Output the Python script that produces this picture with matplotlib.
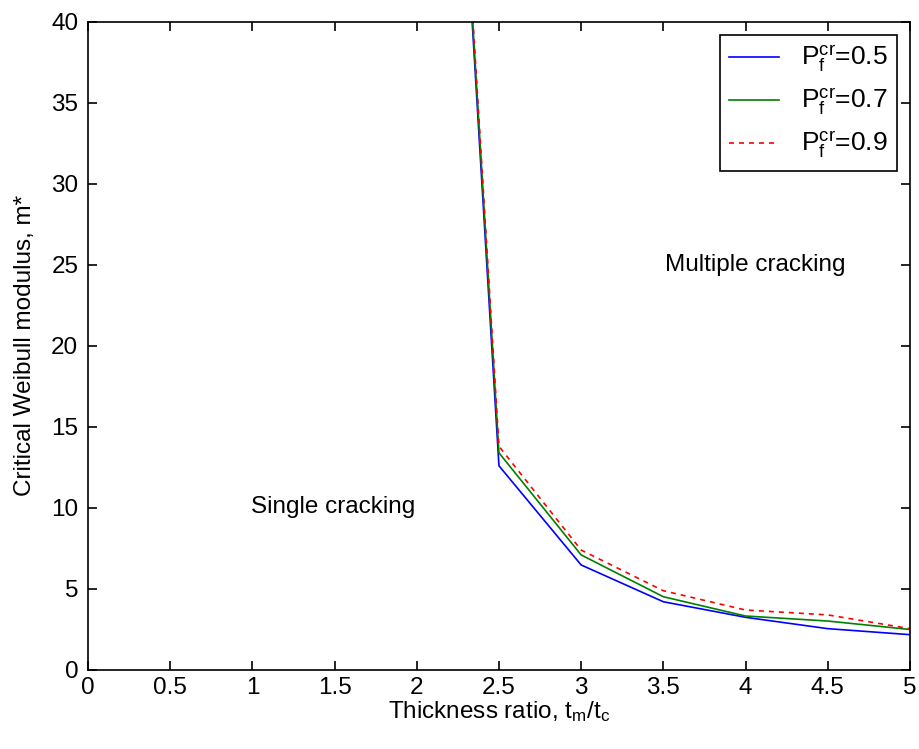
import numpy as np
import matplotlib.pyplot as plt

plt.rcParams['font.family'] = ['Liberation Sans', 'DejaVu Sans']
plt.rcParams['mathtext.fontset'] = 'custom'
plt.rcParams['mathtext.rm'] = 'Liberation Sans'
plt.rcParams['mathtext.it'] = 'Liberation Sans'

# thickness ratio and critical Weibull modulus for each failure probability
ratio = [2.25, 2.5, 3.0, 3.5, 4.0, 4.5, 5.0]
m_05 = [54.6, 12.6, 6.48, 4.21, 3.25, 2.55, 2.18]
m_07 = [55.0, 13.4, 7.1, 4.52, 3.33, 3.02, 2.5]
m_09 = [55.3, 13.8, 7.4, 4.89, 3.7, 3.4, 2.55]
labels = ['P$_f^{cr}$=0.5', 'P$_f^{cr}$=0.7', 'P$_f^{cr}$=0.9']

fig = plt.figure(figsize=(9.2, 7.49), dpi=100)
ax = fig.add_axes([0.0957, 0.1055, 0.8933, 0.8655])

ax.plot(ratio, m_05, color='#0000ff', linewidth=1.2, label=labels[0])
ax.plot(ratio, m_07, color='#008000', linewidth=1.2, label=labels[1])
ax.plot(ratio, m_09, color='#ff0000', linewidth=1.2, linestyle=(0, (3, 3)), label=labels[2])

ax.text(4.06, 25, 'Multiple cracking', ha='center', va='center', fontsize=17.5)
ax.text(1.49, 10.05, 'Single cracking', ha='center', va='center', fontsize=17.5)

ax.set_xlim(0, 5)
ax.set_ylim(0, 40)
ax.set_xticks(np.arange(0, 5.01, 0.5))
ax.set_xticklabels(['0', '0.5', '1', '1.5', '2', '2.5', '3', '3.5', '4', '4.5', '5'])
ax.set_yticks(np.arange(0, 41, 5))
ax.tick_params(direction='in', top=True, right=True, length=6.5, width=1.2,
               labelsize=17.5, pad=5)
ax.tick_params(axis='y', pad=7)
for s in ax.spines.values():
    s.set_linewidth(1.2)

ax.set_xlabel('Thickness ratio, t$_m$/t$_c$', fontsize=17.5, labelpad=0)
ax.set_ylabel('Critical Weibull modulus, m*', fontsize=17.5, labelpad=11)

leg = ax.legend(loc='upper right', fontsize=19, fancybox=False, framealpha=1,
                edgecolor='black', borderaxespad=0.5, handlelength=1.9,
                labelspacing=0.45, borderpad=0.35)
leg.get_frame().set_linewidth(1.2)

fig.savefig('out.png', dpi=100)
